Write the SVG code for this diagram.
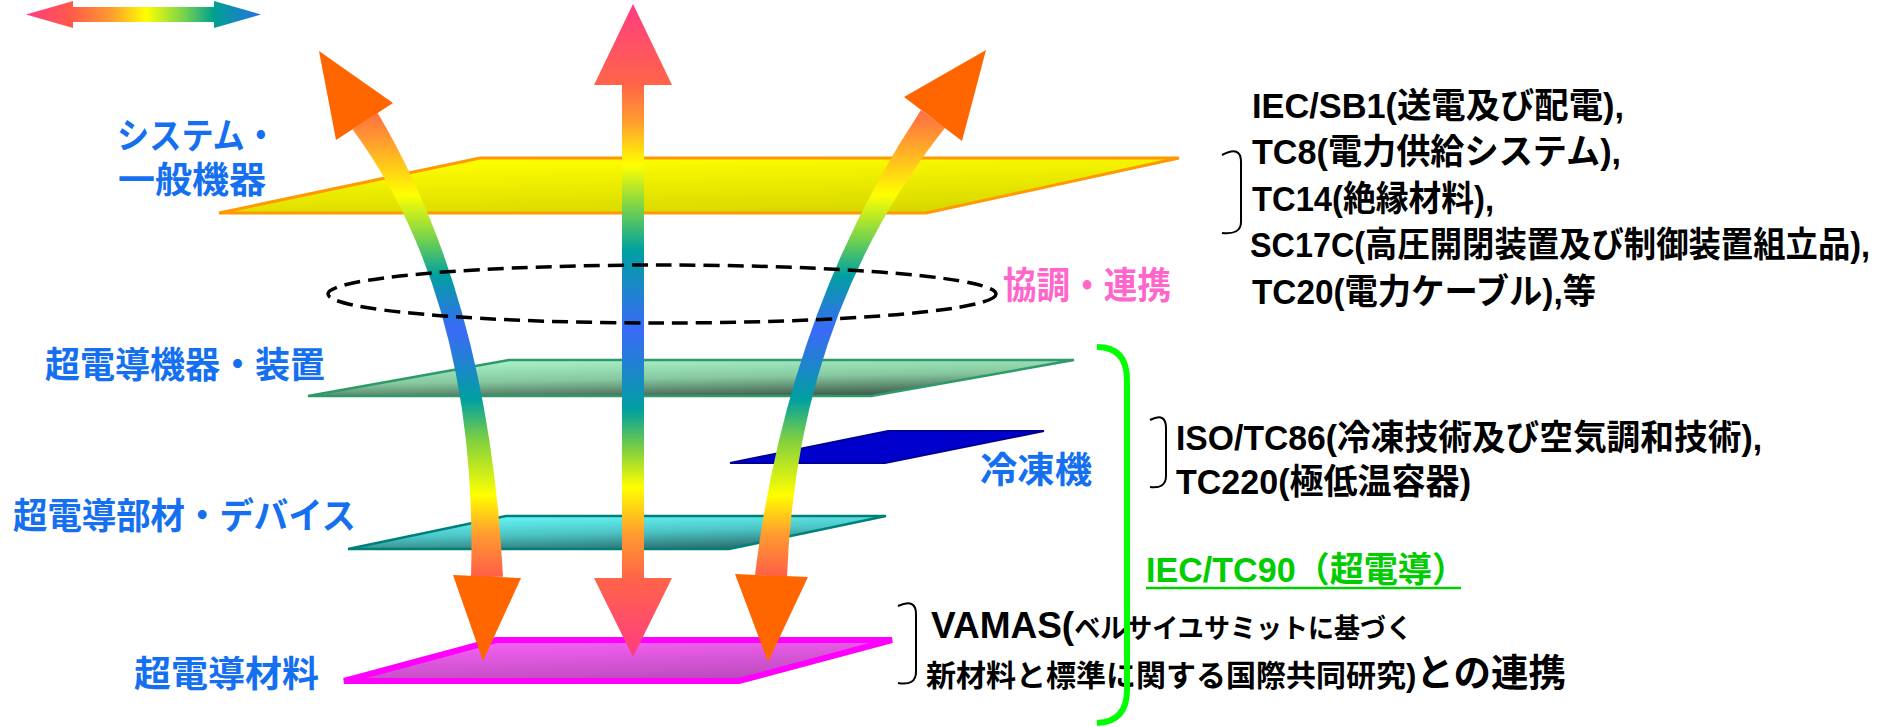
<svg xmlns="http://www.w3.org/2000/svg" width="1890" height="727" viewBox="0 0 1890 727">
<defs>
<style>
.lbl{font-family:"Noto Sans CJK JP","Noto Sans CJK SC",sans-serif;font-weight:bold;fill:#1470F0;font-size:36px}
.blk{font-family:"Liberation Sans","Noto Sans CJK JP",sans-serif;font-weight:bold;fill:#000;font-size:35px}
.brk{fill:none;stroke:#000;stroke-width:2}
.head{fill:#FF6600}
</style>
<linearGradient id="gLegend" gradientUnits="userSpaceOnUse" x1="26" y1="0" x2="261" y2="0">
<stop offset="0" stop-color="#FF3C82"/><stop offset="0.19" stop-color="#FF5A4A"/><stop offset="0.36" stop-color="#FF9A30"/><stop offset="0.51" stop-color="#FFFF00"/><stop offset="0.68" stop-color="#70D050"/><stop offset="0.8" stop-color="#00A090"/><stop offset="1" stop-color="#2A70E8"/>
</linearGradient>
<linearGradient id="gCenter" gradientUnits="userSpaceOnUse" x1="0" y1="4" x2="0" y2="657">
<stop offset="0" stop-color="#FF3C82"/><stop offset="0.1225" stop-color="#FF6448"/><stop offset="0.1776" stop-color="#FF9A30"/><stop offset="0.2466" stop-color="#FFFF00"/><stop offset="0.3155" stop-color="#70D050"/><stop offset="0.3767" stop-color="#00A0A0"/><stop offset="0.4992" stop-color="#3A6AF8"/><stop offset="0.6217" stop-color="#00A0A0"/><stop offset="0.683" stop-color="#80D040"/><stop offset="0.7397" stop-color="#FFFF00"/><stop offset="0.8132" stop-color="#FF9A30"/><stop offset="0.879" stop-color="#FF6448"/><stop offset="1" stop-color="#FF3C82"/>
</linearGradient>
<linearGradient id="gCurve" gradientUnits="userSpaceOnUse" x1="0" y1="100" x2="0" y2="580">
<stop offset="0" stop-color="#FF5A4A"/><stop offset="0.083" stop-color="#FF9A30"/><stop offset="0.198" stop-color="#FFFF00"/><stop offset="0.292" stop-color="#70D050"/><stop offset="0.365" stop-color="#00A0A0"/><stop offset="0.479" stop-color="#3A6AF8"/><stop offset="0.625" stop-color="#00A0A0"/><stop offset="0.708" stop-color="#80D040"/><stop offset="0.823" stop-color="#FFFF00"/><stop offset="0.906" stop-color="#FF9A30"/><stop offset="1" stop-color="#FF5A4A"/>
</linearGradient>
<linearGradient id="gYellow" x1="0.3" y1="0" x2="0.7" y2="1">
<stop offset="0" stop-color="#FFFF00"/><stop offset="1" stop-color="#D6D600"/>
</linearGradient>
<linearGradient id="gGreen" x1="0.3" y1="0" x2="0.7" y2="1">
<stop offset="0" stop-color="#A8F2C8"/><stop offset="0.5" stop-color="#86C8A0"/><stop offset="1" stop-color="#3C5646"/>
</linearGradient>
<linearGradient id="gCyan" x1="0.3" y1="0" x2="0.7" y2="1">
<stop offset="0" stop-color="#66F6F6"/><stop offset="0.5" stop-color="#4CC4C4"/><stop offset="1" stop-color="#2A6A6A"/>
</linearGradient>
<linearGradient id="gMag" x1="0.3" y1="0" x2="0.7" y2="1">
<stop offset="0" stop-color="#F862F8"/><stop offset="1" stop-color="#B84AB8"/>
</linearGradient>
</defs>

<g id="legend-arrow">
<polygon points="26,14.5 73,1 73,7 214,7 214,1 261,14.5 214,28 214,22 73,22 73,28" fill="url(#gLegend)"/>
</g>

<g id="plane-system">
<polygon points="219,213 480,158 1179,158 926,213" fill="url(#gYellow)" stroke="#FF9900" stroke-width="3"/>
</g>
<g id="plane-devices">
<polygon points="308,396 509,360 1074,360 871,396" fill="url(#gGreen)" stroke="#2E9A6A" stroke-width="2.5"/>
</g>
<g id="plane-refrigerator">
<polygon points="730,463 888,431 1044,431 885,463" fill="#0000CC" stroke="#000099" stroke-width="2"/>
</g>
<g id="plane-components">
<polygon points="348,549 506,516 886,516 729,549" fill="url(#gCyan)" stroke="#00807A" stroke-width="2.5"/>
</g>
<g id="plane-materials">
<polygon points="344,681 496,640 892,640 739,681" fill="url(#gMag)" stroke="#FF00FF" stroke-width="6"/>
</g>

<g id="connectors">
<g id="arrow-left">
<path d="M377.5,112.7 Q489.1,300.1 503,576.8 L471,577.2 Q478.9,301.9 352.5,129.3 Z" fill="url(#gCurve)"/>
<polygon class="head" points="319,51 393,103 336,140"/>
<polygon class="head" points="453,575 521,578 483,661"/>
</g>
<g id="arrow-center">
<rect x="622" y="80" width="22" height="502" fill="url(#gCenter)"/>
<polygon points="633,4 672,85 594,85" fill="url(#gCenter)"/>
<polygon points="594,578 672,578 633,657" fill="url(#gCenter)"/>
</g>
<g id="arrow-right">
<path d="M945.1,127.8 Q796.75,314.65 787,577.3 L755,574.7 Q787.25,311.35 920.9,110.2 Z" fill="url(#gCurve)"/>
<polygon class="head" points="986,50 904,97 962,141"/>
<polygon class="head" points="735,574 808,577 768,662"/>
</g>
</g>

<g id="coordination-ellipse">
<ellipse cx="662" cy="294" rx="334" ry="29" fill="none" stroke="#000" stroke-width="3.5" stroke-dasharray="16 8"/>
<text x="1003" y="299" font-family="Noto Sans CJK JP, sans-serif" font-weight="bold" font-size="37" fill="#FF66CC" textLength="168" lengthAdjust="spacingAndGlyphs">協調・連携</text>
</g>

<g id="label-system">
<text class="lbl"><tspan x="117" y="149" textLength="160" lengthAdjust="spacingAndGlyphs">システム・</tspan><tspan x="118" y="193" textLength="148" lengthAdjust="spacingAndGlyphs">一般機器</tspan></text>
</g>
<g id="label-devices">
<text class="lbl" x="45" y="378" textLength="280" lengthAdjust="spacingAndGlyphs">超電導機器・装置</text>
</g>
<g id="label-refrigerator">
<text class="lbl" x="980" y="483" textLength="112" lengthAdjust="spacingAndGlyphs">冷凍機</text>
</g>
<g id="label-components">
<text class="lbl" x="13" y="529" textLength="343" lengthAdjust="spacingAndGlyphs">超電導部材・デバイス</text>
</g>
<g id="label-materials">
<text class="lbl" x="134" y="687" textLength="185" lengthAdjust="spacingAndGlyphs">超電導材料</text>
</g>

<g id="iec-list">
<path class="brk" d="M1222,155 Q1241,145 1241,162 V222 Q1241,235 1222,233"/>
<text class="blk" x="1252" y="118" textLength="372" lengthAdjust="spacingAndGlyphs">IEC/SB1(送電及び配電),</text>
<text class="blk" x="1252" y="164" textLength="369" lengthAdjust="spacingAndGlyphs">TC8(電力供給システム),</text>
<text class="blk" x="1252" y="211" textLength="242" lengthAdjust="spacingAndGlyphs">TC14(絶縁材料),</text>
<text class="blk" x="1250" y="257" font-size="32" textLength="620" lengthAdjust="spacingAndGlyphs">SC17C(高圧開閉装置及び制御装置組立品),</text>
<text class="blk" x="1252" y="304" textLength="344" lengthAdjust="spacingAndGlyphs">TC20(電力ケーブル),等</text>
</g>

<g id="iso-list">
<path class="brk" d="M1150,420 Q1166,412 1166,428 V476 Q1166,489 1150,487"/>
<text class="blk" x="1176" y="450" font-size="33" textLength="586" lengthAdjust="spacingAndGlyphs">ISO/TC86(冷凍技術及び空気調和技術),</text>
<text class="blk" x="1176" y="494" font-size="33" textLength="295" lengthAdjust="spacingAndGlyphs">TC220(極低温容器)</text>
</g>

<g id="vamas">
<path class="brk" d="M898,606 Q916,598 916,614 V672 Q916,686 898,683"/>
<text class="blk" x="931" y="638"><tspan font-size="37">VAMAS(</tspan><tspan font-size="27" font-family="Noto Sans CJK JP, sans-serif" textLength="338" lengthAdjust="spacingAndGlyphs">ベルサイユサミットに基づく</tspan></text>
<text class="blk" x="926" y="686"><tspan font-size="30" font-family="Noto Sans CJK JP, sans-serif">新材料と標準に関する国際共同研究</tspan><tspan font-size="31">)</tspan><tspan font-size="37.5" font-family="Noto Sans CJK JP, sans-serif">との連携</tspan></text>
</g>

<g id="iec-tc90">
<path d="M1097,347 Q1127,347 1127,380 V690 Q1127,722 1097,723" fill="none" stroke="#00FF00" stroke-width="6"/>
<text x="1146" y="582" font-family="Liberation Sans, Noto Sans CJK JP, sans-serif" font-weight="bold" font-size="35" fill="#00CC00" textLength="320" lengthAdjust="spacingAndGlyphs">IEC/TC90（超電導）</text>
<line x1="1146" y1="588" x2="1461" y2="588" stroke="#00CC00" stroke-width="2.5"/>
</g>
</svg>
